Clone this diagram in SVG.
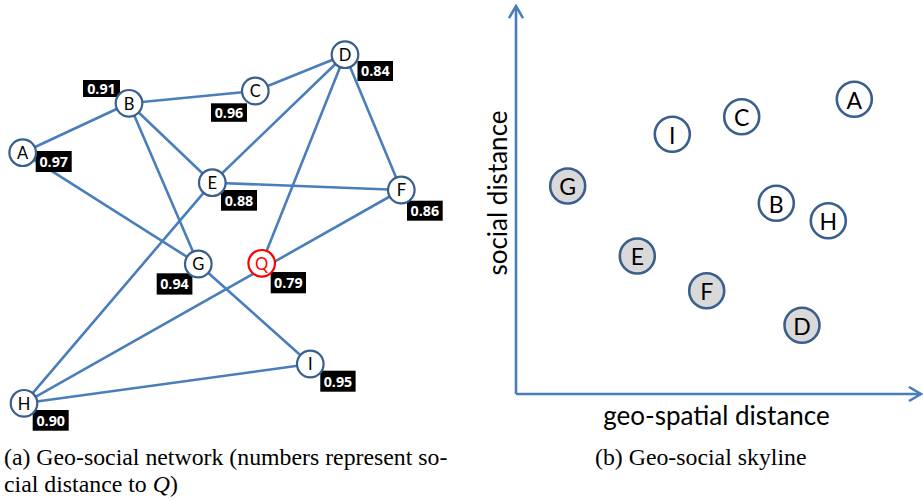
<svg xmlns="http://www.w3.org/2000/svg" width="923" height="501" viewBox="0 0 923 501">
<defs>
<style>
.edge{stroke:#4A7EBB;stroke-width:2.6;fill:none;stroke-linecap:round}
.n{fill:#fff;stroke:#3A5F8D;stroke-width:2.2}
.nr{fill:#fff;stroke:#FF0000;stroke-width:2.2}
.ng{fill:#D9D9D9;stroke:#3A5F8D;stroke-width:2.6}
.nw{fill:#fff;stroke:#3A5F8D;stroke-width:2.6}
.lt{font-family:Lato,"Open Sans",sans-serif;font-size:16.5px;fill:#000;text-anchor:middle;dominant-baseline:central}
.rt{font-family:Lato,"Open Sans",sans-serif;font-size:23px;fill:#000;text-anchor:middle;dominant-baseline:central}
.box{fill:#000}
.bt{font-family:"Open Sans","DejaVu Sans",sans-serif;font-weight:bold;font-size:14.3px;fill:#fff;text-anchor:middle}
.ax{font-family:Lato,"Open Sans",sans-serif;font-size:26px;fill:#000;text-anchor:middle}
.cap{font-family:"Liberation Serif","Times New Roman",serif;font-size:23.8px;fill:#000}
</style>
<marker id="arr" viewBox="0 0 16 16" refX="14" refY="8" markerWidth="16" markerHeight="16" markerUnits="userSpaceOnUse" orient="auto">
<path d="M2,1 L14,8 L2,15" fill="none" stroke="#4A7EBB" stroke-width="2.6"/>
</marker>
</defs>

<g id="edges">
<line class="edge" x1="22.7" y1="152.7" x2="129" y2="103.3"/>
<line class="edge" x1="129" y1="103.3" x2="255.3" y2="91"/>
<line class="edge" x1="255.3" y1="91" x2="345" y2="54.7"/>
<line class="edge" x1="129" y1="103.3" x2="212.3" y2="182.7"/>
<line class="edge" x1="129" y1="103.3" x2="198.3" y2="264"/>
<line class="edge" x1="22.7" y1="152.7" x2="198.3" y2="264"/>
<line class="edge" x1="212.3" y1="182.7" x2="345" y2="54.7"/>
<line class="edge" x1="212.3" y1="182.7" x2="401.3" y2="190"/>
<line class="edge" x1="345" y1="54.7" x2="401.3" y2="190"/>
<line class="edge" x1="345" y1="54.7" x2="261.7" y2="263.3"/>
<line class="edge" x1="212.3" y1="182.7" x2="24" y2="403.3"/>
<line class="edge" x1="401.3" y1="190" x2="24" y2="403.3"/>
<line class="edge" x1="198.3" y1="264" x2="310.3" y2="364"/>
<line class="edge" x1="24" y1="403.3" x2="310.3" y2="364"/>
</g>

<g id="labels">
<rect class="box" x="83" y="80" width="37" height="17"/><text class="bt" x="101.5" y="94">0.91</text>
<rect class="box" x="357.5" y="61" width="35.5" height="20"/><text class="bt" x="375.3" y="76.3">0.84</text>
<rect class="box" x="211" y="103.3" width="36" height="18.5"/><text class="bt" x="229" y="117.8">0.96</text>
<rect class="box" x="35.7" y="151" width="36" height="21"/><text class="bt" x="53.7" y="166.8">0.97</text>
<rect class="box" x="221" y="190" width="36" height="20.7"/><text class="bt" x="239" y="205.6">0.88</text>
<rect class="box" x="407" y="200.7" width="35.7" height="20"/><text class="bt" x="424.8" y="216.1">0.86</text>
<rect class="box" x="156.7" y="273.3" width="35.7" height="21.3"/><text class="bt" x="174.5" y="289.3">0.94</text>
<rect class="box" x="270.7" y="272" width="35.3" height="21.3"/><text class="bt" x="288.3" y="288">0.79</text>
<rect class="box" x="320.3" y="370.7" width="35.3" height="21"/><text class="bt" x="338" y="386.5">0.95</text>
<rect class="box" x="32.7" y="410" width="36" height="20.7"/><text class="bt" x="50.7" y="425.8">0.90</text>
</g>

<g id="node-A"><circle class="n" cx="22.7" cy="152.7" r="13.3"/><text class="lt" x="22.7" y="153">A</text></g>
<g id="node-B"><circle class="n" cx="129" cy="103.3" r="13.3"/><text class="lt" x="129" y="103.6">B</text></g>
<g id="node-C"><circle class="n" cx="255.3" cy="91" r="13.3"/><text class="lt" x="255.3" y="91.3">C</text></g>
<g id="node-D"><circle class="n" cx="345" cy="54.7" r="13.3"/><text class="lt" x="345" y="55">D</text></g>
<g id="node-E"><circle class="n" cx="212.3" cy="182.7" r="13.3"/><text class="lt" x="212.3" y="183">E</text></g>
<g id="node-F"><circle class="n" cx="401.3" cy="190" r="13.3"/><text class="lt" x="401.3" y="190.3">F</text></g>
<g id="node-G"><circle class="n" cx="198.3" cy="264" r="13.3"/><text class="lt" x="198.3" y="264.3">G</text></g>
<g id="node-Q"><circle class="nr" cx="261.7" cy="263.3" r="13.3"/><text class="lt" x="261.7" y="263.6" style="fill:#FF0000">Q</text></g>
<g id="node-I"><circle class="n" cx="310.3" cy="364" r="13.3"/><text class="lt" x="310.3" y="364.3">I</text></g>
<g id="node-H"><circle class="n" cx="24" cy="403.3" r="13.3"/><text class="lt" x="24" y="403.6">H</text></g>

<g id="axes">
<line class="edge" x1="516" y1="394" x2="516" y2="6" marker-end="url(#arr)" style="stroke-linecap:butt"/>
<line class="edge" x1="516" y1="394" x2="921" y2="394" marker-end="url(#arr)" style="stroke-linecap:butt"/>
<text class="ax" transform="translate(506.5,193) rotate(-90)">social distance</text>
<text class="ax" x="716.5" y="425">geo-spatial distance</text>
</g>

<g id="sky-A"><circle class="nw" cx="854.3" cy="99.3" r="17.5"/><text class="rt" x="854.3" y="99.6">A</text></g>
<g id="sky-C"><circle class="nw" cx="741.7" cy="116.7" r="17.5"/><text class="rt" x="741.7" y="117">C</text></g>
<g id="sky-I"><circle class="nw" cx="672.3" cy="134.3" r="17.5"/><text class="rt" x="672.3" y="134.6">I</text></g>
<g id="sky-G"><circle class="ng" cx="567.7" cy="186" r="17.5"/><text class="rt" x="567.7" y="186.3">G</text></g>
<g id="sky-B"><circle class="nw" cx="776.3" cy="203.3" r="17.5"/><text class="rt" x="776.3" y="203.6">B</text></g>
<g id="sky-H"><circle class="nw" cx="828.3" cy="220.7" r="17.5"/><text class="rt" x="828.3" y="221">H</text></g>
<g id="sky-E"><circle class="ng" cx="637.3" cy="256" r="17.5"/><text class="rt" x="637.3" y="256.3">E</text></g>
<g id="sky-F"><circle class="ng" cx="706.7" cy="290.7" r="17.5"/><text class="rt" x="706.7" y="291">F</text></g>
<g id="sky-D"><circle class="ng" cx="802" cy="325.3" r="17.5"/><text class="rt" x="802" y="325.6">D</text></g>

<g id="captions">
<text class="cap" x="4" y="465">(a) Geo-social network (numbers represent so-</text>
<text class="cap" x="4" y="492">cial distance to <tspan font-style="italic">Q</tspan>)</text>
<text class="cap" x="595" y="465">(b) Geo-social skyline</text>
</g>
</svg>
